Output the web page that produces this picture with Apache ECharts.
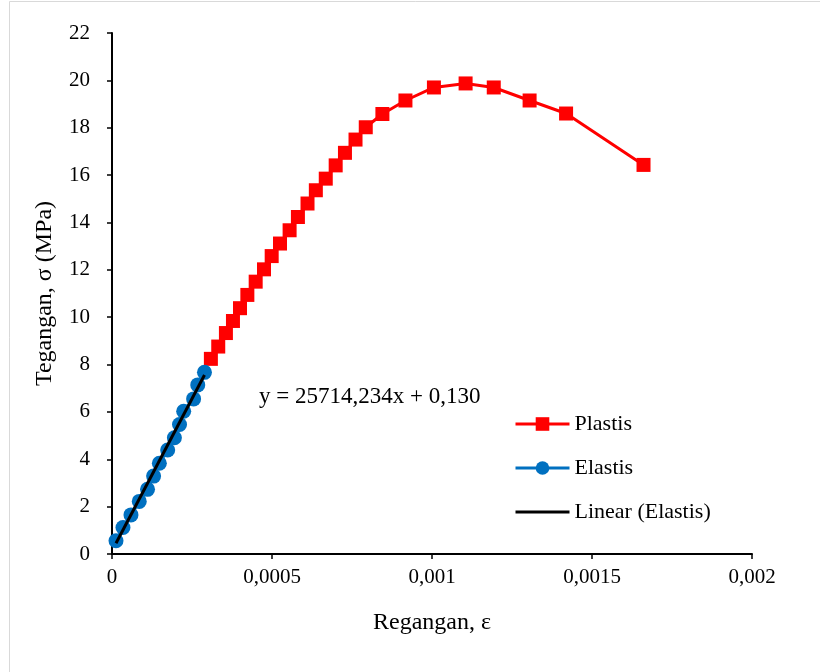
<!DOCTYPE html>
<html>
<head>
<meta charset="utf-8">
<title>Tegangan - Regangan</title>
<script src="https://cdn.jsdelivr.net/npm/echarts@6/dist/echarts.min.js"></script>
<style>
  html, body { margin: 0; padding: 0; background: #fff; }
  #myChart { width: 820px; height: 672px; }
</style>
</head>
<body>
<div id="myChart"></div>
<script>
    // data
    const elastisX = [0.0000125, 0.0000343, 0.0000593, 0.0000852, 0.000111, 0.000130, 0.000148,
                      0.000174, 0.000195, 0.000211, 0.000224, 0.000255, 0.000268, 0.000289];
    const elastisY = [0.56, 1.12, 1.65, 2.22, 2.73, 3.29, 3.83, 4.39, 4.91, 5.47, 6.03, 6.55, 7.14, 7.67];

    const plastisX = [0.000309, 0.000332, 0.000356, 0.000378, 0.000400, 0.000423, 0.000449, 0.000475,
                      0.000499, 0.000525, 0.000555, 0.000581, 0.000611, 0.000637, 0.000668, 0.000699,
                      0.000728, 0.000761, 0.000793, 0.000845, 0.000917, 0.001006, 0.001105, 0.001193,
                      0.001305, 0.001419, 0.001661];
    const plastisY = [8.24, 8.76, 9.33, 9.84, 10.38, 10.94, 11.5, 12.02, 12.58, 13.11, 13.67, 14.23,
                      14.8, 15.36, 15.85, 16.41, 16.94, 17.5, 18.02, 18.58, 19.15, 19.7, 19.87, 19.7,
                      19.15, 18.6, 16.43];

    // trend line of Elastis: y = 25714,234x + 0,130
    const slope = 25714.234;
    const intercept = 0.130;
    const trendX = [elastisX[0], elastisX[elastisX.length - 1]];

    const xTicks = { min: 0, max: 0.002, step: 0.0005 };
    const yTicks = { min: 0, max: 22, step: 2 };

    const font = '"Liberation Serif", "Times New Roman", serif';

    const zip = (xs, ys) => xs.map((x, i) => [x, ys[i]]);

    let myChart = echarts.init(document.getElementById('myChart'));
    myChart.setOption({
        animation: false,
        backgroundColor: '#fff',
        textStyle: { fontFamily: font, color: '#000' },
        grid: { left: 112, right: 68, top: 33, bottom: 118 },
        graphic: [
            {
                type: 'rect',
                shape: { x: 9.5, y: 1.5, width: 830, height: 700 },
                style: { fill: 'none', stroke: '#d9d9d9', lineWidth: 1 },
                silent: true
            },
            {
                type: 'text',
                left: 259,
                top: 385,
                style: {
                    text: 'y = 25714,234x + 0,130',
                    fontFamily: font,
                    fontSize: 23,
                    fill: '#000'
                }
            }
        ],
        legend: {
            orient: 'vertical',
            left: 509,
            top: 408,
            itemWidth: 54,
            itemHeight: 17,
            itemGap: 22,
            lineStyle: { width: 3 },
            textStyle: { fontFamily: font, fontSize: 22, color: '#000' },
            data: [
                'Plastis',
                'Elastis',
                { name: 'Linear (Elastis)', itemStyle: { opacity: 0 } }
            ]
        },
        xAxis: {
            type: 'value',
            min: xTicks.min,
            max: xTicks.max,
            interval: xTicks.step,
            name: 'Regangan, ε',
            nameLocation: 'middle',
            nameGap: 57,
            nameTextStyle: { fontFamily: font, fontSize: 24, color: '#000' },
            splitLine: { show: false },
            axisLine: { lineStyle: { color: '#000', width: 2 } },
            axisTick: { show: true, inside: false, length: 5, lineStyle: { color: '#000', width: 1.5 } },
            axisLabel: {
                fontFamily: font, fontSize: 21, color: '#000', margin: 13,
                formatter: v => String(+v.toFixed(5)).replace('.', ',')
            }
        },
        yAxis: {
            type: 'value',
            min: yTicks.min,
            max: yTicks.max,
            interval: yTicks.step,
            name: 'Tegangan, σ (MPa)',
            nameLocation: 'middle',
            nameRotate: 90,
            nameGap: 55,
            nameTextStyle: { fontFamily: font, fontSize: 24, color: '#000' },
            splitLine: { show: false },
            axisLine: { show: true, lineStyle: { color: '#000', width: 2 } },
            axisTick: { show: true, inside: false, length: 5, lineStyle: { color: '#000', width: 1.5 } },
            axisLabel: { fontFamily: font, fontSize: 21, color: '#000', margin: 22 }
        },
        series: [
            {
                name: 'Plastis',
                type: 'line',
                data: zip(plastisX, plastisY),
                symbol: 'rect',
                symbolSize: 14,
                itemStyle: { color: '#ff0000' },
                lineStyle: { color: '#ff0000', width: 3 }
            },
            {
                name: 'Elastis',
                type: 'line',
                data: zip(elastisX, elastisY),
                symbol: 'circle',
                symbolSize: 15,
                itemStyle: { color: '#0070c0' },
                lineStyle: { color: '#0070c0', width: 3 }
            },
            {
                name: 'Linear (Elastis)',
                type: 'line',
                data: trendX.map(x => [x, slope * x + intercept]),
                symbol: 'none',
                itemStyle: { color: '#000' },
                lineStyle: { color: '#000', width: 3 },
                z: 5
            }
        ]
    });
</script>
</body>
</html>
